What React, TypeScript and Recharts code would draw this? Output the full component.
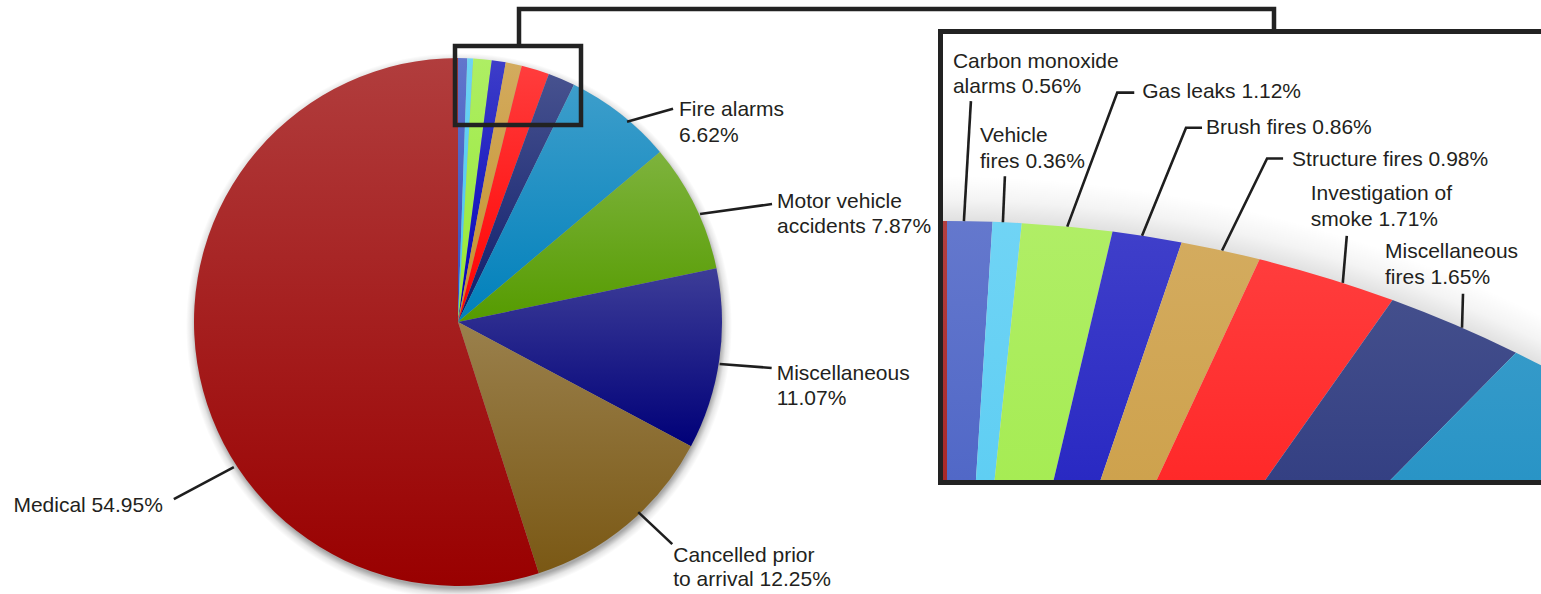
import { Cell, Pie, PieChart } from 'recharts';

// Call types, in drawing order (clockwise from 12 o'clock). "\n" marks where the label wraps.
const categories = [
  'Carbon monoxide\nalarms',
  'Vehicle\nfires',
  'Gas leaks',
  'Brush fires',
  'Structure fires',
  'Investigation of\nsmoke',
  'Miscellaneous\nfires',
  'Fire alarms\n',
  'Motor vehicle\naccidents',
  'Miscellaneous\n',
  'Cancelled prior\nto arrival',
  'Medical',
];
const shares = [0.56, 0.36, 1.12, 0.86, 0.98, 1.71, 1.65, 6.62, 7.87, 11.07, 12.25, 54.95];
const baseColors = [
  '#304BBC', '#40C5F1', '#95E833', '#0000B8', '#C5902B', '#FF0000',
  '#0D1C6B', '#0080BB', '#559B00', '#000078', '#7A5814', '#990000',
];

const data = categories.map((name, i) => ({ name, value: shares[i] }));
// one whole disc, used for the soft shadow under each pie
const whole = [{ name: 'all', value: shares.reduce((s, v) => s + v, 0) }];

const ink = '#231F20';
const lineInk = '#1E1E1E';
const font = '"Liberation Sans", Arial, Helvetica, sans-serif';
const RAD = Math.PI / 180;
const noMargin = { top: 0, right: 0, bottom: 0, left: 0 };

// mix a hex colour with white
function lighten(hex: string, t: number) {
  const n = parseInt(hex.slice(1), 16);
  const c = [(n >> 16) & 255, (n >> 8) & 255, n & 255].map((v) => Math.round(v + (255 - v) * t));
  return `rgb(${c[0]}, ${c[1]}, ${c[2]})`;
}

type LabelSpec = {
  adj: number; // degrees clockwise from the slice middle
  rOff: number;
  line: [number, number];
  elbow?: number;
  text: [number, number];
  lh: number;
  anchor?: 'start' | 'end';
};

const mainLabels: Record<number, LabelSpec> = {
  7: { adj: 2.2, rOff: -2, line: [46, -13], text: [6, 7], lh: 26 },
  8: { adj: 1.9, rOff: 1, line: [72, -10], text: [5, 4], lh: 25 },
  9: { adj: 0.95, rOff: 1, line: [52, 4], text: [5, 12], lh: 25 },
  10: { adj: -3.6, rOff: -2, line: [34, 32], text: [1, 18], lh: 24 },
  11: { adj: -24, rOff: 3, line: [-60, 32], text: [-11, 13], lh: 25, anchor: 'end' },
};

const insetLabels: Record<number, LabelSpec> = {
  0: { adj: -0.26, rOff: 0, line: [7, -120], text: [-18, -33], lh: 25 },
  1: { adj: -0.19, rOff: 0, line: [2, -46], text: [-25, -34], lh: 26 },
  2: { adj: 0, rOff: 0, line: [50, -134], elbow: 17, text: [8, 5], lh: 25 },
  3: { adj: -0.23, rOff: 0, line: [44, -108], elbow: 16, text: [4, 6], lh: 25 },
  4: { adj: 0.06, rOff: 0, line: [45, -92], elbow: 16, text: [9, 7], lh: 25 },
  5: { adj: 0.75, rOff: 0, line: [4, -47], text: [-36, -36], lh: 26 },
  6: { adj: 0.34, rOff: 0, line: [1, -34], text: [-78, -36], lh: 26 },
};

function makeLabel(layout: Record<number, LabelSpec>) {
  return (props: any) => {
    const spec = layout[props.index];
    if (!spec) return null;
    const { cx, cy, outerRadius, midAngle } = props;
    const name = props.payload?.name ?? props.name;
    const value = props.payload?.value ?? props.value;
    const a = (90 - midAngle + spec.adj) * RAD;
    const r = outerRadius + spec.rOff;
    const x0 = cx + r * Math.sin(a);
    const y0 = cy - r * Math.cos(a);
    const x1 = x0 + spec.line[0];
    const y1 = y0 + spec.line[1];
    const x2 = x1 + (spec.elbow ?? 0);
    const tx = x2 + spec.text[0];
    const ty = y1 + spec.text[1];
    const lines = `${name} ${Number(value).toFixed(2)}%`.split('\n').map((s) => s.trim());
    return (
      <g key={`lbl-${props.index}`}>
        <polyline
          points={`${x0},${y0} ${x1},${y1} ${x2},${y1}`}
          fill="none"
          stroke={lineInk}
          strokeWidth={2.6}
        />
        <text
          x={tx}
          y={ty}
          textAnchor={spec.anchor ?? 'start'}
          fontSize={21}
          fill={ink}
          fontFamily={font}
        >
          {lines.map((l, i) => (
            <tspan key={i} x={tx} dy={i === 0 ? 0 : spec.lh}>
              {l}
            </tspan>
          ))}
        </text>
      </g>
    );
  };
}

// The blow-up is stylised: the outer arc follows the big circle but the
// slice edges converge on a point much closer than the circle's centre.
const insetFocus = 586;
function InsetSector(props: any) {
  const { cx, cy, outerRadius: R, startAngle, endAngle, fill } = props;
  const sx = cx + R * Math.cos(startAngle * RAD);
  const sy = cy - R * Math.sin(startAngle * RAD);
  const ex = cx + R * Math.cos(endAngle * RAD);
  const ey = cy - R * Math.sin(endAngle * RAD);
  const large = Math.abs(startAngle - endAngle) > 180 ? 1 : 0;
  return (
    <path
      d={`M${sx},${sy} A${R},${R} 0 ${large} 1 ${ex},${ey} L${cx},${cy - insetFocus} Z`}
      fill={fill}
      stroke="none"
    />
  );
}

const MAIN = { cx: 458, cy: 322, r: 264 };
const INSET = { left: 943, top: 34, w: 598, h: 446, cx: 4, cy: 1482, r: 1295 };

export default function App() {
  return (
    <div
      style={{
        position: 'absolute',
        left: 0,
        top: 0,
        width: 1541,
        height: 594,
        overflow: 'hidden',
        background: '#fff',
        fontFamily: font,
      }}
    >
      <div style={{ position: 'absolute', left: 0, top: 0 }}>
        <PieChart width={940} height={594} margin={noMargin}>
          <defs>
            {/* each slice is shaded over its own height: lighter at its top */}
            {baseColors.map((c, i) => (
              <linearGradient key={i} id={`main-g-${i}`} x1={0} y1={0} x2={0} y2={1}>
                <stop offset="0" stopColor={lighten(c, 0.24)} />
                <stop offset="1" stopColor={lighten(c, 0)} />
              </linearGradient>
            ))}
            <radialGradient
              id="main-shadow"
              gradientUnits="userSpaceOnUse"
              cx={MAIN.cx + 1}
              cy={MAIN.cy + 4}
              r={MAIN.r + 9}
            >
              <stop offset="0.96" stopColor="#000" stopOpacity={0.34} />
              <stop offset="0.98" stopColor="#000" stopOpacity={0.1} />
              <stop offset="1" stopColor="#000" stopOpacity={0} />
            </radialGradient>
          </defs>
          <Pie
            data={whole}
            dataKey="value"
            cx={MAIN.cx + 1}
            cy={MAIN.cy + 4}
            outerRadius={MAIN.r + 9}
            startAngle={90}
            endAngle={-270}
            fill="url(#main-shadow)"
            stroke="none"
            label={false}
            labelLine={false}
            isAnimationActive={false}
          />
          <Pie
            data={data}
            dataKey="value"
            cx={MAIN.cx}
            cy={MAIN.cy}
            outerRadius={MAIN.r}
            startAngle={90}
            endAngle={-270}
            stroke="none"
            label={makeLabel(mainLabels)}
            labelLine={false}
            isAnimationActive={false}
          >
            {data.map((d, i) => (
              <Cell key={d.name} fill={`url(#main-g-${i})`} />
            ))}
          </Pie>
        </PieChart>
      </div>

      <div style={{ position: 'absolute', left: INSET.left, top: INSET.top }}>
        <PieChart width={INSET.w} height={INSET.h} margin={noMargin}>
          <defs>
            {baseColors.map((c, i) => (
              <linearGradient
                key={i}
                id={`inset-g-${i}`}
                gradientUnits="userSpaceOnUse"
                x1={0}
                y1={INSET.cy - INSET.r}
                x2={0}
                y2={INSET.h}
              >
                <stop offset="0" stopColor={lighten(c, 0.25)} />
                <stop offset="1" stopColor={lighten(c, 0.16)} />
              </linearGradient>
            ))}
            <radialGradient
              id="inset-glow"
              gradientUnits="userSpaceOnUse"
              cx={INSET.cx}
              cy={INSET.cy}
              r={INSET.r + 45}
            >
              <stop offset={INSET.r / (INSET.r + 45)} stopColor="#000" stopOpacity={0.12} />
              <stop offset="0.982" stopColor="#000" stopOpacity={0.045} />
              <stop offset="1" stopColor="#000" stopOpacity={0} />
            </radialGradient>
          </defs>
          <Pie
            data={whole}
            dataKey="value"
            cx={INSET.cx}
            cy={INSET.cy}
            outerRadius={INSET.r + 45}
            startAngle={90}
            endAngle={-270}
            fill="url(#inset-glow)"
            stroke="none"
            label={false}
            labelLine={false}
            isAnimationActive={false}
          />
          <Pie
            data={data}
            dataKey="value"
            cx={INSET.cx}
            cy={INSET.cy}
            outerRadius={INSET.r}
            startAngle={90}
            endAngle={-270}
            stroke="none"
            shape={InsetSector}
            label={makeLabel(insetLabels)}
            labelLine={false}
            isAnimationActive={false}
          >
            {data.map((d, i) => (
              <Cell key={d.name} fill={`url(#inset-g-${i})`} />
            ))}
          </Pie>
        </PieChart>
      </div>

      <svg
        width={1541}
        height={594}
        style={{ position: 'absolute', left: 0, top: 0, pointerEvents: 'none' }}
      >
        <rect x={455} y={46} width={126} height={79} fill="none" stroke="#222" strokeWidth={4.5} />
        <path d="M519 44 V9 H1274 V30" fill="none" stroke="#222" strokeWidth={4.5} />
        <rect x={940.5} y={31.5} width={700} height={451} fill="none" stroke="#222" strokeWidth={5} />
      </svg>
    </div>
  );
}
